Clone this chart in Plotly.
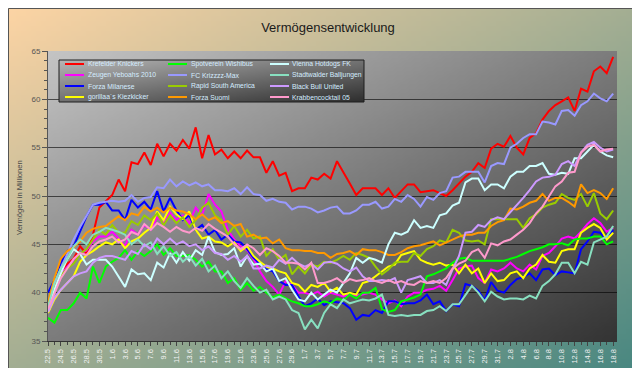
import base64, struct, zlib
import plotly.graph_objects as go

# ---------------- data ----------------
dates = ([f"{d}.5" for d in range(22, 32)] + [f"{d}.6" for d in range(1, 31)]
         + [f"{d}.7" for d in range(1, 32)] + [f"{d}.8" for d in range(1, 19)])

krefelder = [38.5, 40.5, 42.0, 43.0, 43.5, 44.8, 44.0, 46.0, 48.8, 49.4,
             50.1, 51.7, 50.5, 53.5, 53.3, 54.5, 53.2, 55.4, 54.1, 55.4,
             54.7, 55.8, 54.9, 57.1, 53.9, 56.3, 54.3, 54.8, 53.9, 54.6,
             53.9, 54.7, 54.0, 54.0, 52.4, 53.6, 52.1, 52.4, 50.5, 50.8,
             50.8, 51.9, 51.7, 52.3, 51.8, 53.6, 52.5, 51.3, 50.1, 50.8,
             50.8, 50.8, 50.1, 50.8, 49.8, 50.5, 51.2, 51.2, 50.4, 50.5,
             50.6, 50.3, 50.0, 50.6, 51.3, 52.0, 52.5, 53.4, 52.9, 54.9,
             55.4, 55.1, 56.2, 55.0, 54.3, 56.0, 56.5, 57.9, 58.8, 59.4,
             59.8, 60.2, 58.8, 61.1, 60.8, 62.9, 63.4, 62.7, 64.4]
zeugen = [38.5, 40.8, 41.9, 42.7, 43.4, 44.0, 44.4, 45.3, 45.8, 45.8,
          46.3, 45.6, 44.8, 46.5, 46.0, 47.0, 46.5, 47.8, 47.2, 48.3,
          47.5, 48.0, 47.2, 48.8, 48.0, 50.2, 49.1, 48.4, 46.5, 45.5,
          44.8, 44.4, 43.5, 42.2, 41.2, 40.6, 39.8, 41.2, 40.8, 40.0,
          40.0, 39.8, 40.1, 39.6, 40.0, 39.8, 39.6, 39.8, 39.7, 39.8,
          40.0, 39.8, 39.3, 38.9, 39.2, 38.6, 39.6, 40.0, 40.0, 40.3,
          40.4, 40.7, 40.2, 41.3, 42.5, 42.7, 42.8, 41.5, 41.0, 42.4,
          42.2, 42.5, 43.1, 42.5, 42.2, 42.9, 42.4, 43.8, 44.1, 44.8,
          45.6, 45.8, 45.6, 46.3, 47.1, 47.7, 47.2, 46.3, 46.7]
milanese = [40.0, 41.3, 43.1, 44.3, 44.8, 46.3, 47.9, 49.1, 49.1, 49.4,
            48.5, 48.5, 47.5, 49.6, 48.8, 49.4, 48.6, 50.5, 48.4, 49.8,
            48.5, 47.5, 48.0, 46.5, 47.0, 46.0, 46.5, 45.5, 46.0, 45.3,
            45.2, 44.5, 43.6, 43.0, 42.4, 42.2, 41.2, 40.8, 40.8, 39.6,
            38.6, 38.9, 39.4, 38.7, 39.1, 39.0, 38.9, 38.4, 37.2, 37.7,
            37.6, 38.2, 37.9, 39.1, 39.1, 38.8, 38.9, 38.9, 39.2, 39.8,
            38.8, 39.1, 38.1, 38.8, 38.6, 40.9, 40.7, 40.2, 39.2, 41.1,
            40.2, 40.0, 40.8, 41.4, 41.6, 42.0, 41.3, 42.4, 42.5, 41.8,
            42.2, 42.1, 42.0, 44.5, 45.3, 46.3, 46.2, 45.5, 46.5]
gorillaa = [37.9, 39.3, 40.3, 41.0, 41.7, 43.2, 43.9, 44.3, 44.8, 45.2,
            45.0, 45.5, 44.6, 45.3, 45.6, 46.2, 46.7, 48.4, 47.5, 48.9,
            48.1, 47.6, 48.4, 46.5, 45.6, 45.8, 45.3, 45.2, 44.8, 45.2,
            44.3, 44.8, 43.8, 43.2, 42.7, 42.5, 42.2, 42.0, 41.0, 40.8,
            40.1, 40.8, 40.6, 41.0, 40.1, 40.5, 39.8, 40.0, 39.8, 41.0,
            41.2, 41.7, 42.2, 42.7, 42.9, 43.9, 44.1, 44.3, 43.4, 43.1,
            42.9, 43.1, 42.8, 42.9, 42.0, 42.9, 42.0, 42.5, 41.0, 42.0,
            41.2, 41.3, 42.0, 42.2, 41.5, 42.5, 42.9, 43.9, 43.2, 43.1,
            44.3, 44.5, 44.5, 46.2, 46.7, 47.1, 46.7, 45.5, 46.2]
spotverein = [37.4, 36.9, 38.2, 38.2, 38.9, 40.0, 39.4, 42.7, 41.0, 42.7,
              43.2, 43.6, 44.4, 43.4, 44.3, 43.8, 44.3, 45.0, 43.9, 44.6,
              43.8, 43.8, 43.9, 43.4, 42.7, 43.2, 42.2, 42.2, 41.0, 41.5,
              40.3, 41.0, 40.2, 40.6, 40.0, 39.5, 39.8, 39.4, 39.1, 38.9,
              38.6, 38.6, 38.8, 39.1, 38.9, 39.4, 39.2, 39.8, 39.4, 40.0,
              40.0, 40.5, 38.3, 38.0, 38.2, 39.1, 39.3, 39.5, 39.8, 41.7,
              41.9, 42.2, 42.5, 43.1, 43.5, 43.6, 43.3, 43.3, 43.3, 43.3,
              43.3, 43.3, 43.5, 43.7, 44.0, 44.3, 44.5, 44.7, 45.0, 45.0,
              45.1, 44.9, 45.5, 45.6, 45.6, 45.8, 45.8, 45.0, 45.3]
krizzzz = [38.8, 41.0, 42.5, 44.0, 45.5, 46.8, 47.9, 49.1, 49.3, 49.4,
           49.5, 49.4, 49.5, 50.1, 49.4, 49.8, 49.9, 50.9, 50.8, 51.7,
           51.0, 51.5, 51.1, 51.4, 51.0, 51.2, 50.6, 50.6, 50.5, 50.8,
           50.2, 50.9, 50.2, 50.1, 49.5, 49.7, 49.4, 49.3, 48.6, 48.9,
           48.9, 48.7, 48.3, 48.5, 48.8, 48.9, 48.2, 48.2, 48.5, 49.1,
           49.1, 49.4, 48.7, 48.9, 49.7, 49.4, 50.1, 49.7, 48.9, 49.9,
           49.6, 50.3, 50.5, 51.9, 52.0, 52.5, 52.5, 52.5, 51.4, 53.1,
           53.4, 53.3, 55.0, 55.4, 56.0, 56.4, 56.4, 57.7, 57.6, 57.4,
           58.8, 58.9, 58.3, 59.4, 59.8, 60.6, 60.1, 59.8, 60.6]
rapid = [38.5, 40.5, 41.8, 42.5, 43.0, 44.0, 44.5, 45.5, 46.5, 46.0,
         47.0, 46.2, 46.2, 47.4, 47.0, 48.0, 47.5, 48.2, 47.0, 48.0,
         47.2, 47.8, 46.8, 47.5, 48.8, 49.3, 48.0, 47.5, 46.0, 46.9,
         45.8, 46.5, 45.6, 45.8, 43.8, 44.5, 43.4, 43.9, 41.9, 42.7,
         42.0, 42.9, 42.7, 43.2, 43.1, 43.4, 43.8, 43.4, 44.1, 43.9,
         43.6, 42.7, 41.9, 42.4, 43.1, 43.2, 43.2, 44.1, 43.8, 44.5,
         44.8, 45.4, 45.2, 46.5, 46.2, 45.4, 45.3, 45.4, 45.0, 47.6,
         47.6, 47.6, 47.6, 47.6, 46.7, 47.7, 48.1, 48.8, 49.1, 49.3,
         50.2, 49.8, 49.6, 50.2, 48.9, 50.3, 48.2, 47.6, 48.5]
suomi = [39.0, 41.5, 43.5, 44.3, 44.7, 45.3, 46.2, 46.6, 46.8, 46.9,
         47.4, 47.9, 47.5, 48.2, 48.0, 48.9, 48.4, 48.8, 48.3, 48.8,
         48.5, 48.4, 48.1, 47.6, 48.1, 47.5, 47.8, 47.2, 47.4, 46.9,
         47.1, 45.8, 46.0, 45.6, 45.7, 45.1, 45.5, 44.6, 44.4, 44.4,
         44.3, 44.3, 44.1, 44.1, 43.6, 44.0, 44.1, 44.3, 43.9, 44.5,
         44.4, 44.4, 44.2, 43.9, 43.9, 44.2, 44.6, 44.8, 44.9, 45.1,
         45.3, 44.9, 45.2, 45.5, 45.8, 46.0, 46.0, 46.2, 46.2, 46.9,
         47.3, 47.5, 48.7, 48.6, 48.9, 49.3, 49.5, 50.2, 49.5, 49.8,
         49.8, 49.4, 48.9, 51.2, 50.3, 50.6, 50.3, 49.7, 50.8]
vienna = [38.2, 40.3, 42.0, 43.5, 44.5, 44.0, 42.9, 43.4, 43.4, 43.4,
          42.7, 41.7, 40.6, 42.4, 41.9, 42.0, 41.3, 43.1, 42.6, 44.1,
          43.1, 44.2, 43.3, 44.4, 43.9, 45.8, 44.2, 43.9, 44.0, 44.6,
          42.7, 43.8, 42.9, 43.0, 42.2, 42.5, 41.2, 41.5, 40.3, 39.3,
          39.1, 40.0, 39.3, 39.8, 40.3, 40.0, 41.0, 42.0, 43.6, 43.1,
          43.6, 43.4, 43.1, 45.0, 46.2, 46.0, 46.3, 47.5, 46.7, 46.9,
          46.7, 48.0, 48.2, 49.0, 49.3, 51.4, 51.8, 51.8, 50.6, 51.2,
          51.2, 50.8, 52.0, 52.5, 52.5, 53.1, 53.1, 53.4, 52.3, 52.2,
          52.4, 52.3, 53.9, 53.9, 54.6, 55.3, 54.6, 54.2, 54.0]
stadtwalder = [38.5, 41.0, 42.5, 43.5, 44.8, 45.5, 45.0, 46.0, 46.3, 46.7,
               46.5, 46.3, 46.0, 45.0, 45.5, 44.8, 45.2, 44.0, 44.8, 43.8,
               44.2, 43.2, 43.8, 42.8, 43.5, 42.2, 42.8, 41.5, 42.2, 41.2,
               40.5, 41.5, 40.7, 40.0, 40.3, 39.3, 39.6, 39.3, 38.2, 37.9,
               36.2, 37.2, 36.3, 37.9, 38.8, 38.4, 39.3, 38.9, 39.1, 39.3,
               39.2, 39.4, 39.8, 37.7, 37.6, 37.7, 37.6, 37.7, 37.7, 38.1,
               38.2, 38.6, 38.1, 38.8, 38.8, 39.8, 40.7, 40.0, 39.1, 40.1,
               39.6, 39.3, 39.4, 39.4, 39.3, 39.7, 39.4, 40.7, 41.2, 41.9,
               43.1, 43.1, 42.0, 43.2, 42.9, 45.2, 45.5, 45.8, 46.9]
blackbull = [38.0, 39.5, 40.3, 41.0, 41.7, 42.0, 42.2, 43.1, 43.6, 43.8,
             43.8, 43.6, 43.4, 44.3, 44.0, 45.0, 44.5, 45.6, 45.0, 45.6,
             45.0, 45.3, 44.8, 45.0, 44.4, 44.8, 44.1, 44.0, 43.4, 43.8,
             43.2, 43.8, 42.5, 42.5, 42.8, 42.6, 43.4, 43.0, 43.6, 43.0,
             42.7, 43.0, 42.4, 43.1, 43.2, 43.0, 42.5, 42.2, 42.6, 41.7,
             41.2, 41.2, 41.3, 41.2, 41.5, 40.0, 41.3, 41.5, 41.7, 41.0,
             41.0, 41.3, 40.8, 42.4, 43.8, 46.2, 46.3, 47.0, 46.8, 47.5,
             47.8, 47.6, 48.3, 49.0, 49.8, 50.6, 51.5, 51.9, 52.0, 52.2,
             53.3, 53.6, 53.1, 54.5, 55.3, 55.6, 55.0, 54.6, 54.8]
krabben = [38.3, 40.0, 41.5, 42.5, 43.5, 44.1, 43.9, 44.8, 45.3, 45.5,
           45.8, 45.2, 45.5, 46.3, 46.0, 47.1, 46.5, 47.2, 46.8, 46.3,
           46.8, 46.4, 46.2, 46.7, 46.4, 47.1, 46.6, 46.2, 45.8, 45.0,
           44.5, 45.0, 44.6, 43.9, 44.6, 44.3, 43.8, 43.1, 43.1, 43.0,
           42.4, 43.1, 41.0, 41.0, 41.2, 41.5, 41.0, 41.4, 41.2, 41.3,
           41.5, 41.2, 41.0, 41.3, 41.0, 41.2, 40.9, 40.8, 41.2, 41.0,
           41.2, 41.0, 41.5, 42.5, 43.0, 43.3, 44.2, 44.5, 43.6, 45.1,
           44.9, 45.3, 45.5, 46.0, 46.5, 47.2, 48.2, 48.9, 50.0, 51.0,
           51.5, 52.4, 52.5, 54.5, 55.1, 55.3, 54.6, 54.8, 54.9]

series_names = ["Krefelder Knickers", "Zeugen Yeboahs 2010", "Forza Milanese",
                "gorillaa´s Kiezkicker", "Spotverein Wishibus", "FC Krizzzz-Max",
                "Rapid South America", "Forza Suomi", "Vienna Hotdogs FK",
                "Stadtwalder Balljungen", "Black Bull United", "Krabbencocktail 05"]
series_values = [krefelder, zeugen, milanese, gorillaa, spotverein, krizzzz,
                 rapid, suomi, vienna, stadtwalder, blackbull, krabben]
series_colors = ["#FF0000", "#FF00FF", "#0000FF", "#FFFF00", "#00FF00", "#9999FF",
                 "#99CC00", "#FF9900", "#CCFFFF", "#88E0C0", "#CC99FF", "#FF99CC"]

# ---------------- layout helpers ----------------
W, H = 640, 368
L, R, T, B = 40, 31, 43, 35
PW, PH = W - L - R, H - T - B


def px_x(px):
    return (px - L) / PW


def px_y(py):
    return (H - B - py) / PH


def png_uri(w, h, c0, c1):
    raw = bytearray()
    for yy in range(h):
        raw.append(0)
        for xx in range(w):
            t = (xx / (w - 1) + yy / (h - 1)) / 2
            for k in range(3):
                raw.append(int(round(c0[k] + (c1[k] - c0[k]) * t)))

    def chunk(tag, data):
        c = struct.pack('>I', len(data)) + tag + data
        return c + struct.pack('>I', zlib.crc32(tag + data) & 0xffffffff)

    png = (b'\x89PNG\r\n\x1a\n'
           + chunk(b'IHDR', struct.pack('>IIBBBBB', w, h, 8, 2, 0, 0, 0))
           + chunk(b'IDAT', zlib.compress(bytes(raw)))
           + chunk(b'IEND', b''))
    return 'data:image/png;base64,' + base64.b64encode(png).decode()


x_idx = list(range(len(dates)))

fig = go.Figure()
for name, vals, col in zip(series_names, series_values, series_colors):
    fig.add_trace(go.Scatter(x=x_idx, y=vals, mode="lines", name=name,
                             line=dict(color=col, width=2), showlegend=False))

images = [
    dict(source=png_uri(128, 74, (252, 212, 164), (70, 134, 128)),
         xref="paper", yref="paper", x=px_x(0), y=px_y(0),
         sizex=W / PW, sizey=H / PH, xanchor="left", yanchor="top",
         sizing="stretch", layer="below"),
    dict(source=png_uri(128, 66, (196, 196, 196), (52, 52, 52)),
         xref="paper", yref="paper", x=0, y=1, sizex=1, sizey=1,
         xanchor="left", yanchor="top", sizing="stretch", layer="below"),
    dict(source=png_uri(96, 16, (180, 180, 180), (48, 48, 48)),
         xref="paper", yref="paper", x=px_x(51), y=px_y(52),
         sizex=(356 - 51) / PW, sizey=(94 - 52) / PH,
         xanchor="left", yanchor="top", sizing="stretch", layer="above"),
]

shapes = [
    dict(type="rect", xref="paper", yref="paper",
         x0=px_x(51), x1=px_x(356), y0=px_y(52), y1=px_y(94),
         line=dict(color="#1e1e1e", width=1), layer="above"),
    dict(type="rect", xref="paper", yref="paper",
         x0=px_x(0.5), x1=px_x(639.5), y0=px_y(0.5), y1=px_y(367.5),
         line=dict(color="#555555", width=1), layer="above"),
]
annotations = []
row_y = [56, 67, 78, 89]
col_line = [57, 160, 262]
col_text = [78, 181, 282]
for i, (name, col) in enumerate(zip(series_names, series_colors)):
    c, r = i // 4, i % 4
    shapes.append(dict(type="line", xref="paper", yref="paper",
                       x0=px_x(col_line[c]), x1=px_x(col_line[c] + 19),
                       y0=px_y(row_y[r]), y1=px_y(row_y[r]),
                       line=dict(color=col, width=2), layer="above"))
    annotations.append(dict(text=name, xref="paper", yref="paper",
                            x=px_x(col_text[c]), y=px_y(row_y[r]),
                            xanchor="left", yanchor="middle", showarrow=False,
                            font=dict(size=6.8, color="#D4ECFF",
                                      family="Liberation Sans, Arial")))
annotations.append(dict(text="Vermögen in Millionen", xref="paper", yref="paper",
                        x=px_x(11), y=px_y(190), textangle=-90,
                        xanchor="center", yanchor="middle", showarrow=False,
                        font=dict(size=7.6, color="#4a4a4a",
                                  family="Liberation Sans, Arial")))

yax_common = dict(range=[35, 65], tickmode="linear", tick0=35, dtick=5,
                  ticks="outside", ticklen=5, tickcolor="#555555",
                  showline=True, linecolor="#555555", linewidth=1,
                  zeroline=False,
                  minor=dict(tickmode="linear", tick0=35, dtick=1,
                             ticks="outside", ticklen=3, tickcolor="#555555"))

fig.update_layout(
    width=W, height=H,
    margin=dict(l=L, r=R, t=T, b=B, pad=0),
    paper_bgcolor="rgba(0,0,0,0)", plot_bgcolor="rgba(0,0,0,0)",
    font=dict(family="Liberation Sans, Arial"),
    title=dict(text="Vermögensentwicklung", x=0.5, xref="container",
               xanchor="center", y=1 - 19 / H, yref="container",
               yanchor="middle",
               font=dict(size=13, color="#1a1a1a",
                         family="Liberation Sans, Arial")),
    showlegend=False,
    xaxis=dict(range=[0, 88.6], tickmode="array",
               tickvals=x_idx[::2], ticktext=dates[::2], tickangle=-90,
               ticks="outside", ticklen=4, tickcolor="#444444",
               tickfont=dict(size=7.5, color="#F2F2F2"),
               showline=True, linecolor="#333333", linewidth=1,
               showgrid=False, zeroline=False,
               minor=dict(tickmode="linear", tick0=0, dtick=1,
                          ticks="outside", ticklen=3, tickcolor="#444444")),
    yaxis=dict(**yax_common, showgrid=True, gridcolor="rgba(0,0,0,0.6)",
               gridwidth=1, tickfont=dict(size=8, color="#555555")),
    yaxis2=dict(**yax_common, overlaying="y", side="right", showgrid=False,
                tickfont=dict(size=8, color="#E6E6E6")),
    images=images, shapes=shapes, annotations=annotations,
)

fig.write_html("out.html", config={"displayModeBar": False})
